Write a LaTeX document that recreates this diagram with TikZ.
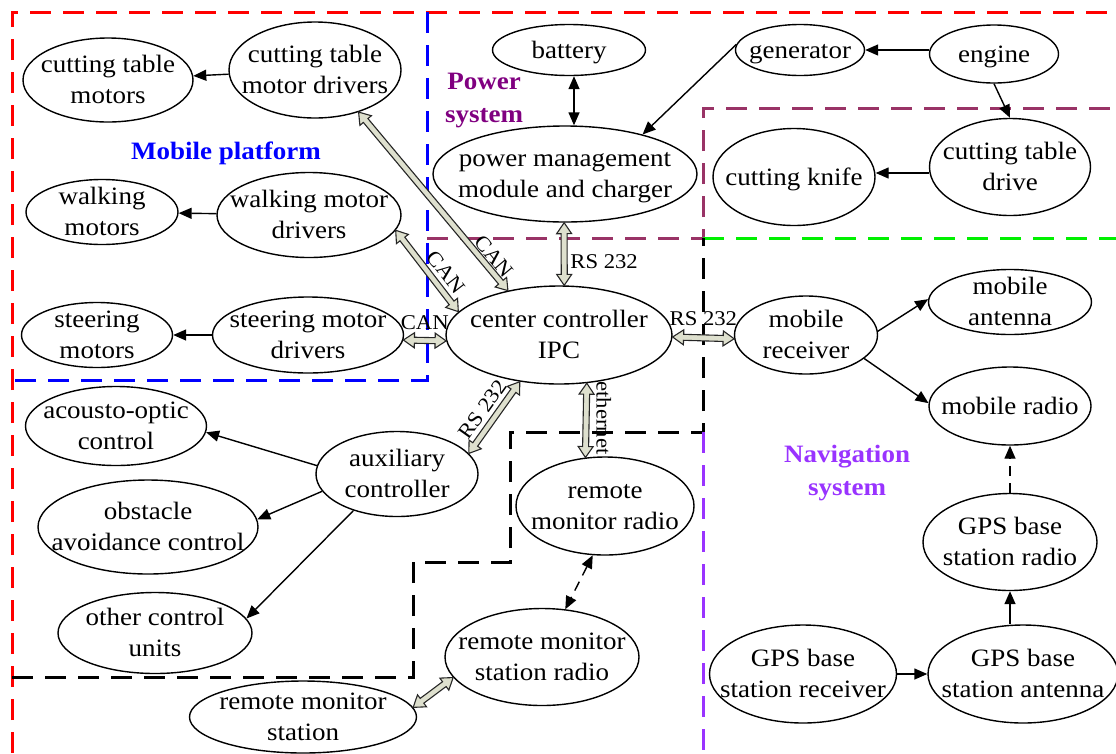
\documentclass[tikz,border=0pt]{standalone}
\usepackage{fontspec}
\setmainfont{Liberation Serif}[FakeStretch=1.08]
\usetikzlibrary{shapes.geometric,arrows.meta,calc}

\definecolor{hfill}{RGB}{222,224,206}
\definecolor{maroonb}{RGB}{153,51,102}
\definecolor{navv}{RGB}{153,51,255}
\definecolor{pwr}{RGB}{128,0,128}
\definecolor{grn}{RGB}{0,240,0}

\tikzset{
 el/.style 2 args={ellipse, draw, line width=1.4pt, minimum width=#1, minimum height=#2, inner sep=0pt},
 txt/.style={font=\fontsize{25}{31}\selectfont, align=center, inner sep=0pt, yshift=-2pt},
 lab/.style={font=\fontsize{21}{24}\selectfont, inner sep=3pt},
 grp/.style={font=\fontsize{25}{33}\selectfont\bfseries, align=center, inner sep=0pt},
 arr/.style={line width=1.4pt, -{Triangle[length=13pt,width=11pt]}},
 darr/.style={line width=1.4pt, {Triangle[length=13pt,width=11pt]}-{Triangle[length=13pt,width=11pt]}},
 hollow/.style={draw=black!85, fill=hfill, line width=1.1pt, line join=miter},
 bnd/.style={line width=3pt, dash pattern=on 21pt off 12pt},
}

\newcommand\enode[6]{%
  \node[el={#4pt}{#5pt}] (#1) at (#2,#3) {};
  \node[txt] (#1-t) at (#1) {\strut #6\strut};
}

\newcommand\hollowarrow[2]{%
  \path let \p1=(#1), \p2=(#2),
    \n1={atan2(\y2-\y1,\x2-\x1)}, \n2={veclen(\x2-\x1,\y2-\y1)} in
    \pgfextra{\xdef\haA{\n1}\xdef\haL{\n2}\xdef\haX{\x1}\xdef\haY{\y1}};
  \begin{scope}[shift={(\haX,\haY)}, rotate=\haA]
    \draw[hollow] (0,0) -- (11,7.5) -- (11,3) -- ({\haL-11},3) -- ({\haL-11},7.5)
      -- (\haL,0) -- ({\haL-11},-7.5) -- ({\haL-11},-3) -- (11,-3) -- (11,-7.5) -- cycle;
  \end{scope}
}

\begin{document}
\begin{tikzpicture}[x=1pt, y=-1pt]
\useasboundingbox (0,0) rectangle (1116,753);

% boundaries
\draw[bnd, red] (12,753) -- (12,12) -- (1116,12);
\draw[bnd, blue] (427,12) -- (427,380) -- (12,380);
\draw[bnd, maroonb] (427,238) -- (703,238) -- (703,108) -- (1116,108);
\draw[bnd, grn] (703,238) -- (1116,238);
\draw[bnd, black] (12,677) -- (413,677) -- (413,562) -- (510,562) -- (510,432) -- (703,432) -- (703,238);
\draw[bnd, navv] (703,432) -- (703,753);

% nodes
\enode{ctm}{108}{80}{170}{84}{cutting table\\motors}
\enode{ctmd}{315}{70}{172}{96}{cutting table\\motor drivers}
\enode{wm}{102}{212}{152}{65}{walking\\motors}
\enode{wmd}{309}{215}{184}{85}{walking motor\\drivers}
\enode{sm}{97}{335}{151}{65}{steering\\motors}
\enode{smd}{308}{335}{191}{76}{steering motor\\drivers}
\enode{cc}{559}{335}{226}{98}{center controller\\IPC}
\enode{bat}{569}{50}{153}{51}{battery}
\enode{pm}{565}{174}{264}{96}{power management\\module and charger}
\enode{gen}{800}{50}{129}{51}{generator}
\enode{eng}{994}{54}{129}{58}{engine}
\enode{ctd}{1010}{167}{161}{97}{cutting table\\drive}
\enode{knife}{794}{177}{162}{97}{cutting knife}
\enode{mr}{806}{335}{143}{78}{mobile\\receiver}
\enode{ma}{1010}{302}{163}{65}{mobile\\antenna}
\enode{mrad}{1010}{406}{162}{78}{mobile radio}
\enode{gr}{1010}{542}{174}{97}{GPS base\\station radio}
\enode{ga}{1023}{674}{190}{98}{GPS base\\station antenna}
\enode{gx}{803}{674}{187}{98}{GPS base\\station receiver}
\enode{rmr}{605}{506}{178}{98}{remote\\monitor radio}
\enode{aux}{397}{474}{162}{85}{auxiliary\\controller}
\enode{ac}{116}{426}{181}{79}{acousto-optic\\control}
\enode{ob}{148}{527}{220}{94}{obstacle\\avoidance control}
\enode{oc}{155}{633}{194}{81}{other control\\units}
\enode{rms}{303}{717}{227}{72}{remote monitor\\station}
\enode{rmsr}{542}{657}{194}{97}{remote monitor\\station radio}

% group titles
\node[grp, text=blue] (g1) at (226,153) {Mobile platform};
\node[grp, text=pwr] (g2) at (484,101) {Power\\system};
\node[grp, text=navv] (g3) at (847,473) {Navigation\\system};

% plain arrows
\draw[arr] (ctmd) -- (ctm);
\draw[arr] (wmd) -- (wm);
\draw[arr] (smd) -- (sm);
\draw[darr] ([xshift=5pt]bat.south) -- ([xshift=9pt]pm.north);
\draw[arr] (gen.175) -- (pm.27);
\draw[arr] (eng.west |- gen.east) -- (gen.east);
\draw[arr] (eng.south) -- (ctd.north);
\draw[arr] ([yshift=-6pt]ctd.west) -- ([yshift=4pt]knife.east);
\draw[arr] (mr.3) -- (ma.178);
\draw[arr] (mr.-22) -- (mrad.178);
\draw[arr, dash pattern=on 10pt off 7pt] (gr.north) -- (mrad.south);
\draw[arr] (gr.south |- ga.north) -- (gr.south);
\draw[arr] (gx.east) -- (ga.west);
\draw[arr] (aux.174) -- (ac.-4);
\draw[arr] (aux.193) -- (ob.4);
\draw[arr] (aux.220) -- (oc.9.5);
\draw[darr, dash pattern=on 10pt off 7pt] (rmr.-104) -- (rmsr.64);

% hollow bus arrows
\hollowarrow{ctmd.-44}{cc.139}
\hollowarrow{wmd.-10}{cc.167}
\hollowarrow{smd.-3.6}{cc.-177}
\hollowarrow{pm.-91}{cc.84}
\hollowarrow{cc.-1.5}{mr.-177.6}
\hollowarrow{aux.16}{cc.-130}
\hollowarrow{cc.-60}{rmr.112}
\hollowarrow{rms.5}{rmsr.-167}

% bus labels
\path (ctmd.-44) -- node[lab, sloped, above, pos=0.85, inner sep=4pt] (l1) {CAN} (cc.139);
\path (wmd.-10) -- node[lab, sloped, above, pos=0.62, inner sep=7pt] (l2) {CAN} (cc.167);
\path (smd.-3.6) -- node[lab, above, yshift=8pt] (l3) {CAN} (cc.-177);
\path (pm.-91) -- node[lab, right, pos=0.62, xshift=3pt] (l4) {RS 232} (cc.84);
\path (cc.-1.5) -- node[lab, above, yshift=9pt] (l5) {RS 232} (mr.-177.6);
\path (aux.16) -- node[lab, sloped, above, pos=0.5, inner sep=7pt] (l6) {RS 232} (cc.-130);
\path (cc.-60) -- node[lab, rotate=-90, anchor=south, pos=0.47, inner sep=10pt] (l7) {ethernet} (rmr.112);
\end{tikzpicture}
\end{document}
